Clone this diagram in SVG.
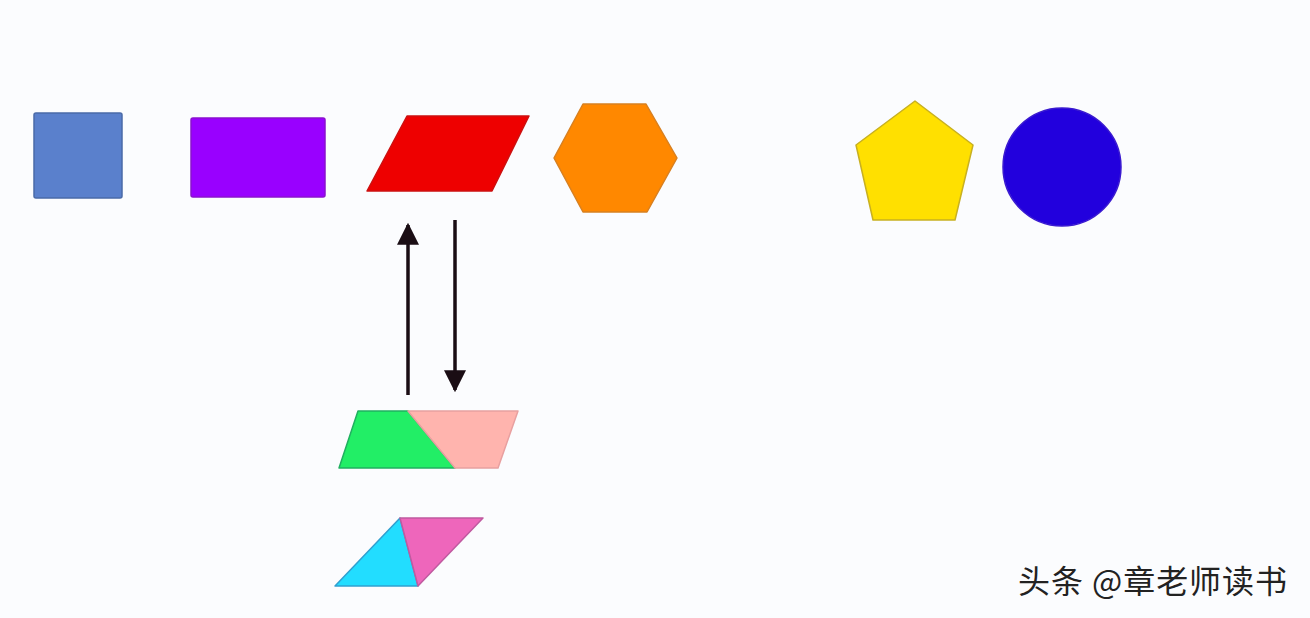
<svg xmlns="http://www.w3.org/2000/svg" width="1310" height="618" viewBox="0 0 1310 618">
<defs>
<style>
.shape{stroke-width:1.5;stroke-linejoin:round}
.conn{stroke:#1a0d14;stroke-width:3.5;fill:none}
.lbl{font-family:"Noto Sans CJK SC","Liberation Sans",sans-serif;font-size:32px;fill:#222;stroke:#fff;stroke-width:0.6;paint-order:stroke}
</style>
<marker id="ah" viewBox="0 0 10 10" refX="9" refY="5" markerWidth="6.3" markerHeight="6.3" markerUnits="strokeWidth" orient="auto">
<path d="M0,0 L10,5 L0,10 Z" fill="#1a0d14"/>
</marker>
</defs>
<rect width="1310" height="618" fill="#fbfcfe"/>
<g id="square"><rect class="shape" x="34" y="113" width="88" height="85" rx="2" fill="#5a80cc" stroke="#4a6aa8"/></g>
<g id="rectangle"><rect class="shape" x="191" y="118" width="134" height="79" rx="2" fill="#9900ff" stroke="#8a10d0"/></g>
<g id="parallelogram"><polygon class="shape" points="407,116 529,116 492,191 367,191" fill="#ee0000" stroke="#cc1010"/></g>
<g id="hexagon"><polygon class="shape" points="554,158 583,104 646,104 677,158 647,212 583,212" fill="#ff8800" stroke="#d88020"/></g>
<g id="pentagon"><polygon class="shape" points="915,101 973,145 955,220 873,220 856,145" fill="#ffe000" stroke="#c8b020"/></g>
<g id="circle"><circle cx="1062" cy="167" r="59" fill="#2200dd" stroke="#3a1ad0" stroke-width="1.5"/></g>
<g id="split-parallelogram">
<polygon class="shape" points="358,411 408,411 455,468 339,468" fill="#22ee66" stroke="#20b060"/>
<polygon class="shape" points="408,411 518,411 498,468 455,468" fill="#ffb4ae" stroke="#e8a0a0"/>
</g>
<g id="split-rhombus">
<polygon class="shape" points="400,518 418,586 335,586" fill="#22ddff" stroke="#30a0d0"/>
<polygon class="shape" points="400,518 483,518 418,586" fill="#ee66bb" stroke="#c05aa0"/>
</g>
<g id="connectors">
<line class="conn" x1="408" y1="395" x2="408" y2="225" marker-end="url(#ah)"/>
<line class="conn" x1="455" y1="220" x2="455" y2="390" marker-end="url(#ah)"/>
</g>
<g id="watermark"><text class="lbl" x="1018" y="593" textLength="269" lengthAdjust="spacing">头条 @章老师读书</text></g>
</svg>
